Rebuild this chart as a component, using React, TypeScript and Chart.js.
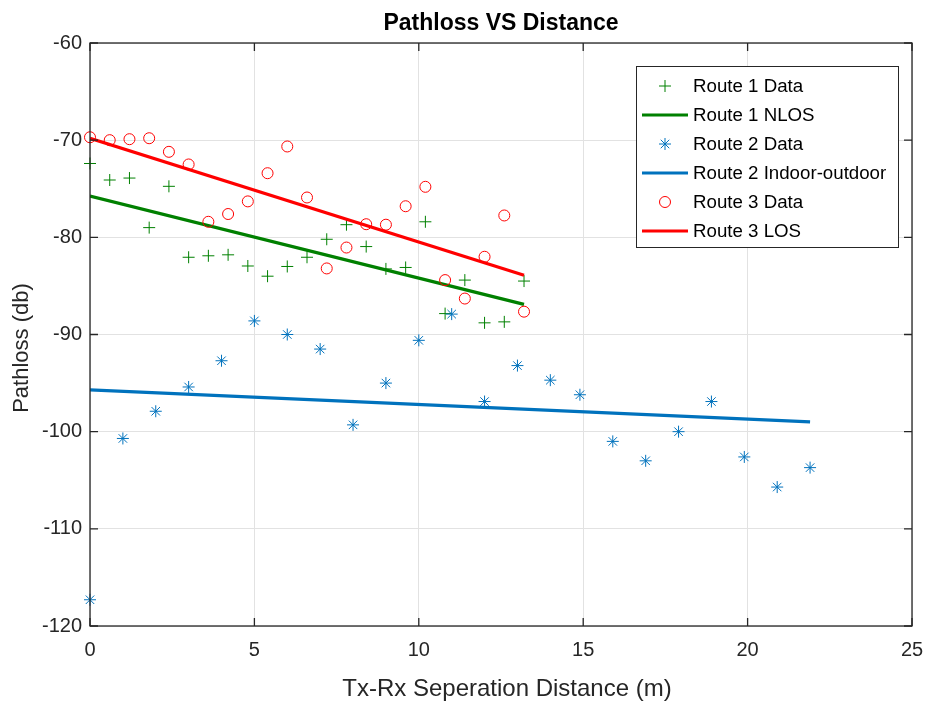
import React, { useEffect, useRef } from 'react';
import { Chart, registerables } from 'chart.js';

Chart.register(...registerables);

// ---- data ----
const route1X = [0, 0.6, 1.2, 1.8, 2.4, 3.0, 3.6, 4.2, 4.8, 5.4, 6.0, 6.6, 7.2, 7.8, 8.4, 9.0, 9.6, 10.2, 10.8, 11.4, 12.0, 12.6, 13.2];
const route1Y = [-72.4, -74.1, -73.9, -79.0, -74.75, -82.05, -81.9, -81.8, -82.95, -84.0, -83.0, -82.05, -80.2, -78.7, -80.95, -83.25, -83.1, -78.4, -87.85, -84.4, -88.8, -88.7, -84.5];
const route1FitX = [0, 13.2];
const route1FitY = [-75.75, -86.9];

const route2X = [0, 1, 2, 3, 4, 5, 6, 7, 8, 9, 10, 11, 12, 13, 14, 14.9, 15.9, 16.9, 17.9, 18.9, 19.9, 20.9, 21.9];
const route2Y = [-117.3, -100.7, -97.9, -95.4, -92.7, -88.6, -90.0, -91.5, -99.3, -95.0, -90.6, -87.9, -96.9, -93.2, -94.7, -96.2, -101.0, -103.0, -100.0, -96.9, -102.6, -105.7, -103.7];
const route2FitX = [0, 21.9];
const route2FitY = [-95.7, -99.0];

const route3X = [0, 0.6, 1.2, 1.8, 2.4, 3.0, 3.6, 4.2, 4.8, 5.4, 6.0, 6.6, 7.2, 7.8, 8.4, 9.0, 9.6, 10.2, 10.8, 11.4, 12.0, 12.6, 13.2];
const route3Y = [-69.7, -70.0, -69.9, -69.8, -71.2, -72.5, -78.4, -77.6, -76.3, -73.4, -70.65, -75.9, -83.2, -81.05, -78.65, -78.7, -76.8, -74.8, -84.4, -86.3, -82.0, -77.75, -87.65];
const route3FitX = [0, 13.2];
const route3FitY = [-69.8, -83.9];

const seriesLabels = ['Route 1 Data', 'Route 1 NLOS', 'Route 2 Data', 'Route 2 Indoor-outdoor', 'Route 3 Data', 'Route 3 LOS'];
const xTicks = [0, 5, 10, 15, 20, 25];
const yTicks = [-120, -110, -100, -90, -80, -70, -60];

const chartTitle = 'Pathloss VS Distance';
const xTitle = 'Tx-Rx Seperation Distance (m)';
const yTitle = 'Pathloss (db)';

const GREEN = '#008000';
const BLUE = '#0072BD';
const RED = '#FF0000';
const AXIS = '#262626';
const FONT = '"Liberation Sans", Arial, Helvetica, sans-serif';

const pts = (xs: number[], ys: number[]) => xs.map((x, i) => ({ x, y: ys[i] }));

function drawMarker(ctx: CanvasRenderingContext2D, style: string, cx: number, cy: number, r: number) {
  ctx.beginPath();
  if (style === 'cross') {
    ctx.moveTo(cx - r, cy); ctx.lineTo(cx + r, cy);
    ctx.moveTo(cx, cy - r); ctx.lineTo(cx, cy + r);
  } else if (style === 'star') {
    ctx.moveTo(cx - r, cy); ctx.lineTo(cx + r, cy);
    ctx.moveTo(cx, cy - r); ctx.lineTo(cx, cy + r);
    const d = r * Math.SQRT1_2;
    ctx.moveTo(cx - d, cy - d); ctx.lineTo(cx + d, cy + d);
    ctx.moveTo(cx - d, cy + d); ctx.lineTo(cx + d, cy - d);
  } else {
    ctx.arc(cx, cy, r, 0, Math.PI * 2);
  }
  ctx.stroke();
}

const framePlugin = {
  id: 'matlabFrame',
  afterDraw(chart: any) {
    const { ctx, chartArea: a, scales } = chart;
    const xs = scales.x;
    const ys = scales.y;
    ctx.save();
    // box
    ctx.strokeStyle = AXIS;
    ctx.lineWidth = 1.3;
    ctx.strokeRect(a.left, a.top, a.right - a.left, a.bottom - a.top);
    // inward ticks
    const tl = 8;
    ctx.beginPath();
    xTicks.forEach((v) => {
      const px = xs.getPixelForValue(v);
      ctx.moveTo(px, a.bottom); ctx.lineTo(px, a.bottom - tl);
      ctx.moveTo(px, a.top); ctx.lineTo(px, a.top + tl);
    });
    yTicks.forEach((v) => {
      const py = ys.getPixelForValue(v);
      ctx.moveTo(a.left, py); ctx.lineTo(a.left + tl, py);
      ctx.moveTo(a.right, py); ctx.lineTo(a.right - tl, py);
    });
    ctx.stroke();

    // title
    ctx.fillStyle = '#000';
    ctx.font = `bold 23px ${FONT}`;
    ctx.textAlign = 'center';
    ctx.textBaseline = 'alphabetic';
    ctx.fillText(chartTitle, (a.left + a.right) / 2, 30);

    // axis titles
    ctx.fillStyle = AXIS;
    ctx.font = `24px ${FONT}`;
    ctx.fillText(xTitle, (a.left + a.right) / 2 + 6, 696);
    ctx.save();
    ctx.translate(28, 348);
    ctx.rotate(-Math.PI / 2);
    ctx.font = `22px ${FONT}`;
    ctx.fillText(yTitle, 0, 0);
    ctx.restore();

    // legend
    const lx = 636, ly = 66, lw = 262, lh = 181;
    ctx.fillStyle = '#fff';
    ctx.fillRect(lx, ly, lw, lh);
    ctx.strokeStyle = AXIS;
    ctx.lineWidth = 1;
    ctx.strokeRect(lx + 0.5, ly + 0.5, lw, lh);
    ctx.font = `18.7px ${FONT}`;
    ctx.textAlign = 'left';
    ctx.textBaseline = 'middle';
    chart.data.datasets.forEach((ds: any, i: number) => {
      const cy = 86 + i * 29;
      ctx.strokeStyle = ds.borderColor;
      if (ds.showLine) {
        ctx.lineWidth = 3;
        ctx.beginPath();
        ctx.moveTo(642, cy); ctx.lineTo(688, cy);
        ctx.stroke();
      } else {
        ctx.lineWidth = 1;
        drawMarker(ctx, ds.pointStyle, 665, cy, ds.pointRadius);
      }
      ctx.fillStyle = '#000';
      ctx.fillText(ds.label, 693, cy + 1);
    });
    ctx.restore();
  },
};

export default function App() {
  const ref = useRef<HTMLCanvasElement | null>(null);

  useEffect(() => {
    document.body.style.margin = '0';
    const canvas = ref.current;
    if (!canvas) return;
    const tickFont = { family: FONT, size: 20 };
    const chart = new Chart(canvas, {
      type: 'scatter',
      data: {
        datasets: [
          { label: seriesLabels[0], data: pts(route1X, route1Y), pointStyle: 'cross', pointRadius: 6, borderColor: GREEN, backgroundColor: GREEN, borderWidth: 1, showLine: false, order: 6, clip: false },
          { label: seriesLabels[1], data: pts(route1FitX, route1FitY), pointRadius: 0, borderColor: GREEN, backgroundColor: GREEN, borderWidth: 3.2, showLine: true, order: 5 },
          { label: seriesLabels[2], data: pts(route2X, route2Y), pointStyle: 'star', pointRadius: 6, borderColor: BLUE, backgroundColor: BLUE, borderWidth: 1, showLine: false, order: 4, clip: false },
          { label: seriesLabels[3], data: pts(route2FitX, route2FitY), pointRadius: 0, borderColor: BLUE, backgroundColor: BLUE, borderWidth: 3.2, showLine: true, order: 3 },
          { label: seriesLabels[4], data: pts(route3X, route3Y), pointStyle: 'circle', pointRadius: 5.5, borderColor: RED, backgroundColor: 'rgba(0,0,0,0)', borderWidth: 1, showLine: false, order: 2, clip: false },
          { label: seriesLabels[5], data: pts(route3FitX, route3FitY), pointRadius: 0, borderColor: RED, backgroundColor: RED, borderWidth: 3.2, showLine: true, order: 1 },
        ] as any,
      },
      options: {
        responsive: false,
        animation: false,
        events: [],
        layout: { padding: { top: 43, right: 20, left: 0, bottom: 0 } },
        plugins: {
          legend: { display: false },
          tooltip: { enabled: false },
          title: { display: false },
        },
        scales: {
          x: {
            type: 'linear',
            min: 0,
            max: 25,
            ticks: { stepSize: 5, font: tickFont, color: AXIS, padding: 12 },
            grid: { color: '#e2e2e2', drawTicks: false, lineWidth: 1 },
            border: { display: false },
            afterFit: (s: any) => { s.height = 76; s.paddingLeft = 0; s.paddingRight = 0; },
          },
          y: {
            type: 'linear',
            min: -120,
            max: -60,
            ticks: { stepSize: 10, font: tickFont, color: AXIS, padding: 8 },
            grid: { color: '#e2e2e2', drawTicks: false, lineWidth: 1 },
            border: { display: false },
            afterFit: (s: any) => { s.width = 90; s.paddingTop = 0; s.paddingBottom = 0; },
          },
        },
      } as any,
      plugins: [framePlugin],
    });
    return () => chart.destroy();
  }, []);

  return (
    <div style={{ width: 932, height: 702, background: '#fff' }}>
      <canvas ref={ref} width={932} height={702} style={{ display: 'block', width: 932, height: 702 }} />
    </div>
  );
}
